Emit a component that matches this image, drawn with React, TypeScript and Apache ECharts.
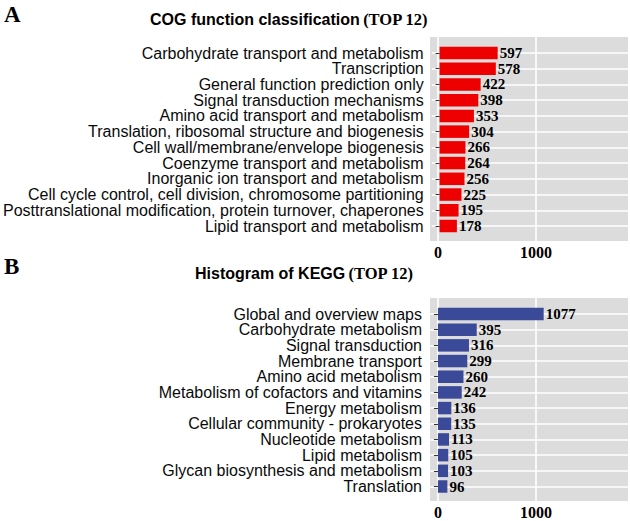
import React, { useEffect, useRef } from "react";
import * as echarts from "echarts";

const cogCategories = [
  "Carbohydrate transport and metabolism",
  "Transcription",
  "General function prediction only",
  "Signal transduction mechanisms",
  "Amino acid transport and metabolism",
  "Translation, ribosomal structure and biogenesis",
  "Cell wall/membrane/envelope biogenesis",
  "Coenzyme transport and metabolism",
  "Inorganic ion transport and metabolism",
  "Cell cycle control, cell division, chromosome partitioning",
  "Posttranslational modification, protein turnover, chaperones",
  "Lipid transport and metabolism",
];
const cogValues = [597, 578, 422, 398, 353, 304, 266, 264, 256, 225, 195, 178];

const keggCategories = [
  "Global and overview maps",
  "Carbohydrate metabolism",
  "Signal transduction",
  "Membrane transport",
  "Amino acid metabolism",
  "Metabolism of cofactors and vitamins",
  "Energy metabolism",
  "Cellular community - prokaryotes",
  "Nucleotide metabolism",
  "Lipid metabolism",
  "Glycan biosynthesis and metabolism",
  "Translation",
];
const keggValues = [1077, 395, 316, 299, 260, 242, 136, 135, 113, 105, 103, 96];

const xTickValues = [0, 1000];
const xMin = -81;
const xMax = 1936;

const SANS = "'Liberation Sans', Arial, sans-serif";
const SERIF = "'Liberation Serif', 'Times New Roman', serif";
const GRAY = "#DCDCDC";

export default function App() {
  const ref = useRef<HTMLDivElement>(null);
  useEffect(() => {
    if (!ref.current) return;
    const chart = echarts.init(ref.current, null, { renderer: "svg" });

    const bgX = (gridIndex: number) => ({
      type: "value",
      gridIndex,
      min: xMin,
      max: xMax,
      axisLine: { show: false },
      axisTick: { show: false, customValues: xTickValues },
      axisLabel: {
        customValues: xTickValues,
        formatter: (v: number) => String(v),
        margin: 3,
        fontFamily: SERIF,
        fontWeight: "bold",
        fontSize: 16,
        color: "#000",
      },
      splitLine: { show: true, lineStyle: { color: "#FFFFFF", width: 1.6 } },
    });
    const barX = (gridIndex: number) => ({
      type: "value",
      gridIndex,
      min: xMin,
      max: xMax,
      show: false,
      splitLine: { show: false },
    });
    const bgY = (gridIndex: number) => ({
      type: "category",
      gridIndex,
      data: [],
      show: false,
    });
    const barY = (gridIndex: number, data: string[]) => ({
      type: "category",
      gridIndex,
      data,
      inverse: true,
      boundaryGap: false,
      axisLine: { show: false },
      axisTick: { show: true, length: 4, lineStyle: { color: "#333", width: 1 } },
      axisLabel: {
        margin: 8,
        fontFamily: SANS,
        fontSize: 16,
        color: "#0a0a0a",
        interval: 0,
        padding: [0, 0, 2, 0],
      },
      splitLine: { show: true, lineStyle: { color: "#FFFFFF", width: 1.6 } },
    });
    const barSeries = (idx: number, values: number[], color: string) => ({
      type: "bar",
      xAxisIndex: idx,
      yAxisIndex: idx,
      data: values,
      barWidth: 12.5,
      clip: false,
      itemStyle: { color },
      label: {
        show: true,
        position: "right",
        distance: 2,
        fontFamily: SERIF,
        fontWeight: "bold",
        fontSize: 15,
        color: "#000",
      },
    });

    chart.setOption({
      animation: false,
      backgroundColor: "#FFFFFF",
      grid: [
        { left: 430, top: 37, width: 198, height: 204, show: true, backgroundColor: GRAY, borderWidth: 0 },
        { left: 430, top: 53, width: 198, height: 173 },
        { left: 430, top: 298, width: 198, height: 203, show: true, backgroundColor: GRAY, borderWidth: 0 },
        { left: 430, top: 314, width: 198, height: 172.5 },
      ],
      xAxis: [bgX(0), barX(1), bgX(2), barX(3)],
      yAxis: [bgY(0), barY(1, cogCategories), bgY(2), barY(3, keggCategories)],
      series: [
        barSeries(1, cogValues, "#EE0000"),
        barSeries(3, keggValues, "#3A4A98"),
      ],
      graphic: [
        {
          type: "text",
          x: 4,
          y: 14,
          style: { text: "A", font: `bold 23px ${SERIF}`, fill: "#000", verticalAlign: "middle" },
        },
        {
          type: "text",
          x: 4,
          y: 266,
          style: { text: "B", font: `bold 23px ${SERIF}`, fill: "#000", verticalAlign: "middle" },
        },
        {
          type: "text",
          x: 150,
          y: 19,
          style: {
            text: "{a|COG function classification} {b|(TOP 12)}",
            verticalAlign: "middle",
            rich: {
              a: { fontFamily: SANS, fontWeight: "bold", fontSize: 16, fill: "#000" },
              b: { fontFamily: SERIF, fontWeight: "bold", fontSize: 16.5, fill: "#000" },
            },
          },
        },
        {
          type: "text",
          x: 195,
          y: 273,
          style: {
            text: "{a|Histogram of KEGG} {b|(TOP 12)}",
            verticalAlign: "middle",
            rich: {
              a: { fontFamily: SANS, fontWeight: "bold", fontSize: 16, fill: "#000" },
              b: { fontFamily: SERIF, fontWeight: "bold", fontSize: 16.5, fill: "#000" },
            },
          },
        },
      ],
    });
    return () => chart.dispose();
  }, []);
  return (
    <div
      ref={ref}
      style={{ position: "absolute", left: 0, top: 0, width: 630, height: 521 }}
    />
  );
}
